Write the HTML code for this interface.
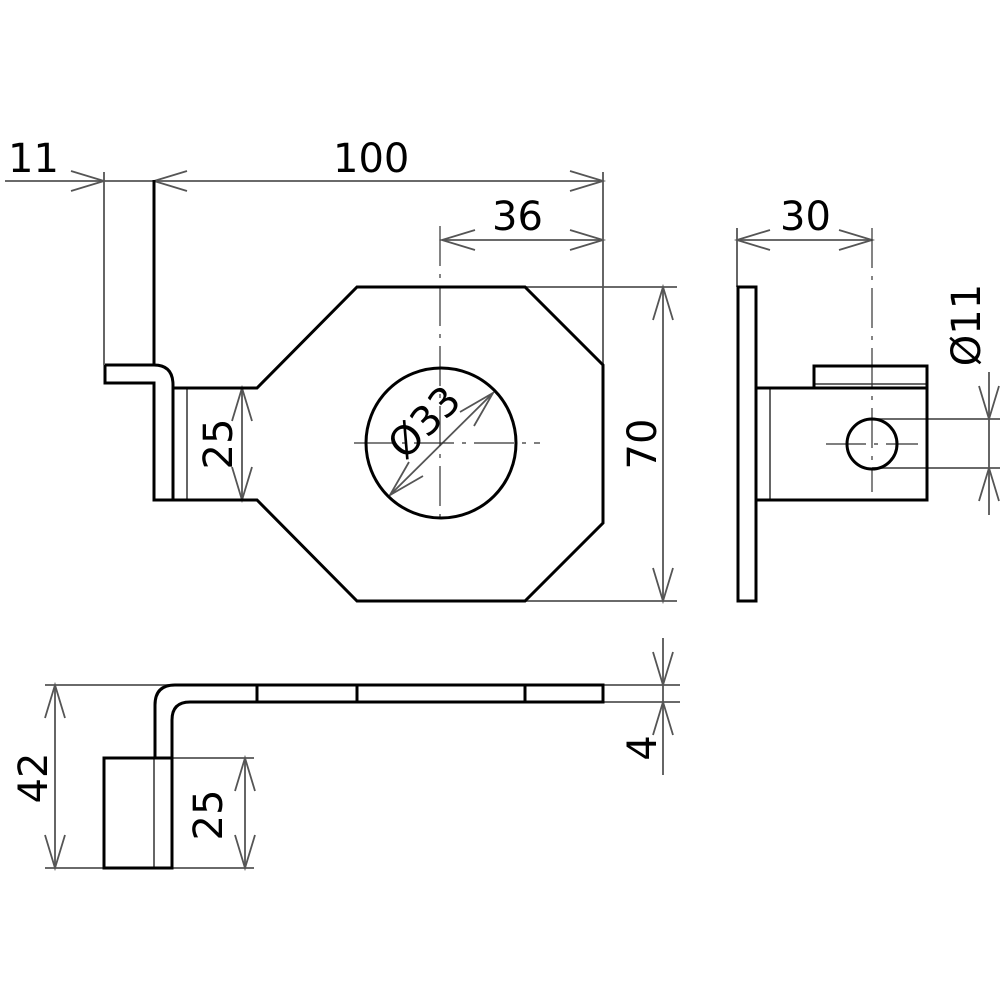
<!DOCTYPE html>
<html><head><meta charset="utf-8"><style>
html,body{margin:0;padding:0;background:#fff}
svg{display:block}
text{font-family:"DejaVu Sans","Liberation Sans",sans-serif;font-size:40px;fill:#000}
</style></head><body>
<svg width="1000" height="1000" viewBox="0 0 1000 1000" xmlns="http://www.w3.org/2000/svg">
<g fill="none" stroke="#555" stroke-width="1.8">
<!-- top dims -->
<line x1="5" y1="181" x2="603" y2="181"/>
<line x1="104" y1="172" x2="104" y2="365"/>
<line x1="603" y1="172" x2="603" y2="365"/>
<path d="M71,171 L104,181 L71,191"/>
<path d="M187,171 L154,181 L187,191"/>
<path d="M570,171 L603,181 L570,191"/>
<line x1="442" y1="240" x2="603" y2="240"/>
<path d="M475,230 L442,240 L475,250"/>
<path d="M570,230 L603,240 L570,250"/>
<!-- 70 -->
<line x1="525" y1="287" x2="677" y2="287"/>
<line x1="525" y1="601" x2="677" y2="601"/>
<line x1="663" y1="287" x2="663" y2="601"/>
<path d="M653,320 L663,287 L673,320"/>
<path d="M653,568 L663,601 L673,568"/>
<!-- 25 top -->
<line x1="242" y1="388" x2="242" y2="500"/>
<path d="M232,421 L242,388 L252,421"/>
<path d="M232,467 L242,500 L252,467"/>
<line x1="187" y1="388" x2="187" y2="500"/>
<!-- phi33 -->
<line x1="390" y1="495" x2="493" y2="393"/>
<path d="M409,462 L390,495 L423,476"/>
<path d="M474,426 L493,393 L460,412"/>
<!-- side view dims -->
<line x1="737" y1="228" x2="737" y2="287"/>
<line x1="737" y1="240" x2="872" y2="240"/>
<path d="M770,230 L737,240 L770,250"/>
<path d="M839,230 L872,240 L839,250"/>
<line x1="872" y1="419" x2="1000" y2="419"/>
<line x1="872" y1="468" x2="1000" y2="468"/>
<line x1="989" y1="372" x2="989" y2="515"/>
<path d="M979,386 L989,419 L999,386"/>
<path d="M979,501 L989,468 L999,501"/>
<line x1="770" y1="388" x2="770" y2="500"/>
<line x1="814" y1="384" x2="927" y2="384"/>
<!-- bottom view dims -->
<line x1="45" y1="685" x2="170" y2="685"/>
<line x1="45" y1="868" x2="104" y2="868"/>
<line x1="55" y1="685" x2="55" y2="868"/>
<path d="M45,718 L55,685 L65,718"/>
<path d="M45,835 L55,868 L65,835"/>
<line x1="172" y1="758" x2="254" y2="758"/>
<line x1="172" y1="868" x2="254" y2="868"/>
<line x1="245" y1="758" x2="245" y2="868"/>
<path d="M235,791 L245,758 L255,791"/>
<path d="M235,835 L245,868 L255,835"/>
<line x1="154" y1="758" x2="154" y2="868"/>
<line x1="603" y1="685" x2="680" y2="685"/>
<line x1="603" y1="702" x2="680" y2="702"/>
<line x1="663" y1="638" x2="663" y2="775"/>
<path d="M653,652 L663,685 L673,652"/>
<path d="M653,735 L663,702 L673,735"/>
</g>
<!-- center lines -->
<g fill="none" stroke="#333" stroke-width="1.2" stroke-dasharray="40,8,4,8">
<line x1="440" y1="226" x2="440" y2="525"/>
<line x1="354" y1="443" x2="540" y2="443"/>
<line x1="872" y1="228" x2="872" y2="492"/>
<line x1="826" y1="444" x2="918" y2="444"/>
</g>
<!-- object lines -->
<g fill="none" stroke="#000" stroke-width="3">
<line x1="154" y1="180" x2="154" y2="365"/>
<path d="M105,365 L154,365 Q173,365 173,385 L173,500"/>
<path d="M105,365 L105,383 L154,383 L154,500 L257,500 L357,601 L525,601 L603,523 L603,365 L525,287 L357,287 L257,388 L173,388"/>
<circle cx="441" cy="443" r="75"/>
<rect x="738" y="287" width="18" height="314"/>
<path d="M756,388 L814,388 L814,366 L927,366 L927,500 L756,500"/>
<line x1="814" y1="388" x2="927" y2="388"/>
<circle cx="872" cy="444" r="25"/>
<path d="M155,758 L155,705 Q155,685 175,685 L603,685 L603,702 L190,702 Q172,702 172,720 L172,868"/>
<rect x="104" y="758" width="68" height="110"/>
<line x1="257" y1="685" x2="257" y2="702"/>
<line x1="357" y1="685" x2="357" y2="702"/>
<line x1="525" y1="685" x2="525" y2="702"/>
</g>
<text x="8" y="172">11</text>
<text x="333" y="172">100</text>
<text x="492" y="230">36</text>
<text x="780" y="230">30</text>
<text transform="translate(232,444) rotate(-90)" text-anchor="middle">25</text>
<text transform="translate(656,444) rotate(-90)" text-anchor="middle">70</text>
<text transform="translate(434,432) rotate(-45)" text-anchor="middle">Ø33</text>
<text transform="translate(980,325) rotate(-90)" text-anchor="middle">Ø11</text>
<text transform="translate(47,778) rotate(-90)" text-anchor="middle">42</text>
<text transform="translate(222,815) rotate(-90)" text-anchor="middle">25</text>
<text transform="translate(656,748) rotate(-90)" text-anchor="middle">4</text>
</svg>
</body></html>
